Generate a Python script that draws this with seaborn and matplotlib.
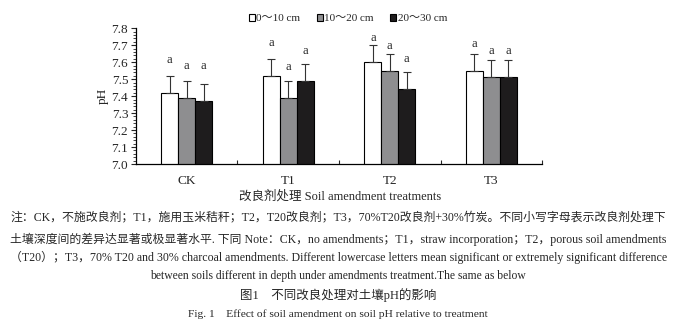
import numpy as np
import pandas as pd
import matplotlib
matplotlib.use("Agg")
import matplotlib.pyplot as plt
from matplotlib.ticker import MultipleLocator, FixedLocator
import seaborn as sns

# ---- data ----
treatments = ['CK', 'T1', 'T2', 'T3']
depths = ['0～10 cm', '10～20 cm', '20～30 cm']
ph_0_10 = [7.42, 7.52, 7.60, 7.55]
ph_10_20 = [7.39, 7.39, 7.55, 7.51]
ph_20_30 = [7.37, 7.49, 7.44, 7.51]
err_0_10 = [0.10, 0.10, 0.10, 0.10]
err_10_20 = [0.10, 0.10, 0.10, 0.10]
err_20_30 = [0.10, 0.10, 0.10, 0.10]
letters_0_10 = ['a', 'a', 'a', 'a']
letters_10_20 = ['a', 'a', 'a', 'a']
letters_20_30 = ['a', 'a', 'a', 'a']
letter_y_0_10 = [7.613, 7.712, 7.743, 7.708]
letter_y_10_20 = [7.580, 7.574, 7.698, 7.666]
letter_y_20_30 = [7.580, 7.666, 7.619, 7.666]
yticks = [7.0, 7.1, 7.2, 7.3, 7.4, 7.5, 7.6, 7.7, 7.8]

values = [ph_0_10, ph_10_20, ph_20_30]
errors = [err_0_10, err_10_20, err_20_30]
letters = [letters_0_10, letters_10_20, letters_20_30]
letter_ys = [letter_y_0_10, letter_y_10_20, letter_y_20_30]

df = pd.DataFrame({
    'treatment': np.repeat([treatments], 3, axis=0).ravel(),
    'depth': np.repeat(depths, len(treatments)),
    'pH': np.concatenate(values),
})

sns.set_style('white')
FAM = ['Liberation Serif', 'Noto Sans CJK SC', 'DejaVu Sans']
plt.rcParams['font.family'] = FAM

fig = plt.figure(figsize=(6.76, 3.32), dpi=100)
ax = fig.add_axes([0.201, 0.506, 0.601, 0.409])

palette = ['#ffffff', '#8e8e90', '#1e1c1d']
sns.barplot(data=df, x='treatment', y='pH', hue='depth', order=treatments,
            hue_order=depths, palette=palette, edgecolor='black', linewidth=0.8,
            width=0.5, gap=0, errorbar=None, ax=ax, zorder=2)

for cont, errs, lets, lys in zip(ax.containers, errors, letters, letter_ys):
    for bar, e, l, ly in zip(cont, errs, lets, lys):
        xc = bar.get_x() + bar.get_width() / 2
        h = bar.get_height()
        ax.errorbar(xc, h, yerr=[[0], [e]], fmt='none', ecolor='#333333',
                    elinewidth=0.8, capsize=3, capthick=0.8, zorder=3)
        ax.text(xc, ly, l, ha='center', va='center', fontsize=9, clip_on=False)

ax.set_ylim(7.0, 7.8)
ax.set_xlim(-0.5, 3.5)
ax.yaxis.set_major_locator(FixedLocator(yticks))
ax.set_yticklabels([f'{v:.1f}' for v in yticks], fontsize=9.5)
ax.yaxis.set_minor_locator(MultipleLocator(0.02))
ax.tick_params(axis='y', which='major', direction='out', length=3.5, width=0.8, left=True, pad=2)
ax.tick_params(axis='y', which='minor', direction='out', length=2, width=0.6, left=True)
ax.xaxis.set_minor_locator(FixedLocator([0.5, 1.5, 2.5, 3.5]))
ax.tick_params(axis='x', which='major', length=0, labelsize=9.5, pad=8)
ax.tick_params(axis='x', which='minor', direction='in', length=3, width=0.8, bottom=True)

for s in ['top', 'right']:
    ax.spines[s].set_visible(False)
for s in ['left', 'bottom']:
    ax.spines[s].set_color('black')
    ax.spines[s].set_linewidth(0.9)

ax.set_xlabel('')
ax.set_ylabel('pH', fontsize=9.5, labelpad=2)

handles, labels = ax.get_legend_handles_labels()
ax.legend(handles, labels, loc='center', bbox_to_anchor=(0.515, 0.943),
          bbox_transform=fig.transFigure, ncol=3, frameon=False, fontsize=8,
          handlelength=0.5, handleheight=0.5, handletextpad=0.15, columnspacing=1.5)

fig.text(0.503, 1 - 196 / 332, '改良剂处理 Soil amendment treatments', ha='center', va='center', fontsize=9)

renderer = fig.canvas.get_renderer()


def fit_text(x, y, s, width_px, fs0, **kw):
    t = fig.text(x, y, s, fontsize=fs0, va='center', **kw)
    w = t.get_window_extent(renderer=renderer).width
    t.set_fontsize(fs0 * width_px / w)
    return t


fit_text(10 / 676, 1 - 217 / 332,
         '注：CK，不施改良剂；T1，施用玉米秸秆；T2，T20改良剂；T3，70%T20改良剂+30%竹炭。不同小写字母表示改良剂处理下',
         654, 7.6, ha='left')
fit_text(10 / 676, 1 - 239 / 332,
         '土壤深度间的差异达显著或极显著水平. 下同 Note：CK，no amendments；T1，straw incorporation；T2，porous soil amendments',
         654, 7.6, ha='left')
fit_text(10 / 676, 1 - 257 / 332,
         '（T20）；T3，70% T20 and 30% charcoal amendments. Different lowercase letters mean significant or extremely significant difference',
         654, 7.6, ha='left')
fit_text(0.5, 1 - 276 / 332,
         'between soils different in depth under amendments treatment.The same as below',
         375, 7.6, ha='center')
fit_text(0.5, 1 - 295 / 332, '图1　不同改良处理对土壤pH的影响', 197, 9.5, ha='center')
fit_text(0.5, 1 - 314 / 332, 'Fig. 1　Effect of soil amendment on soil pH relative to treatment',
         301, 7.6, ha='center')

fig.savefig('out.png', dpi=100)
